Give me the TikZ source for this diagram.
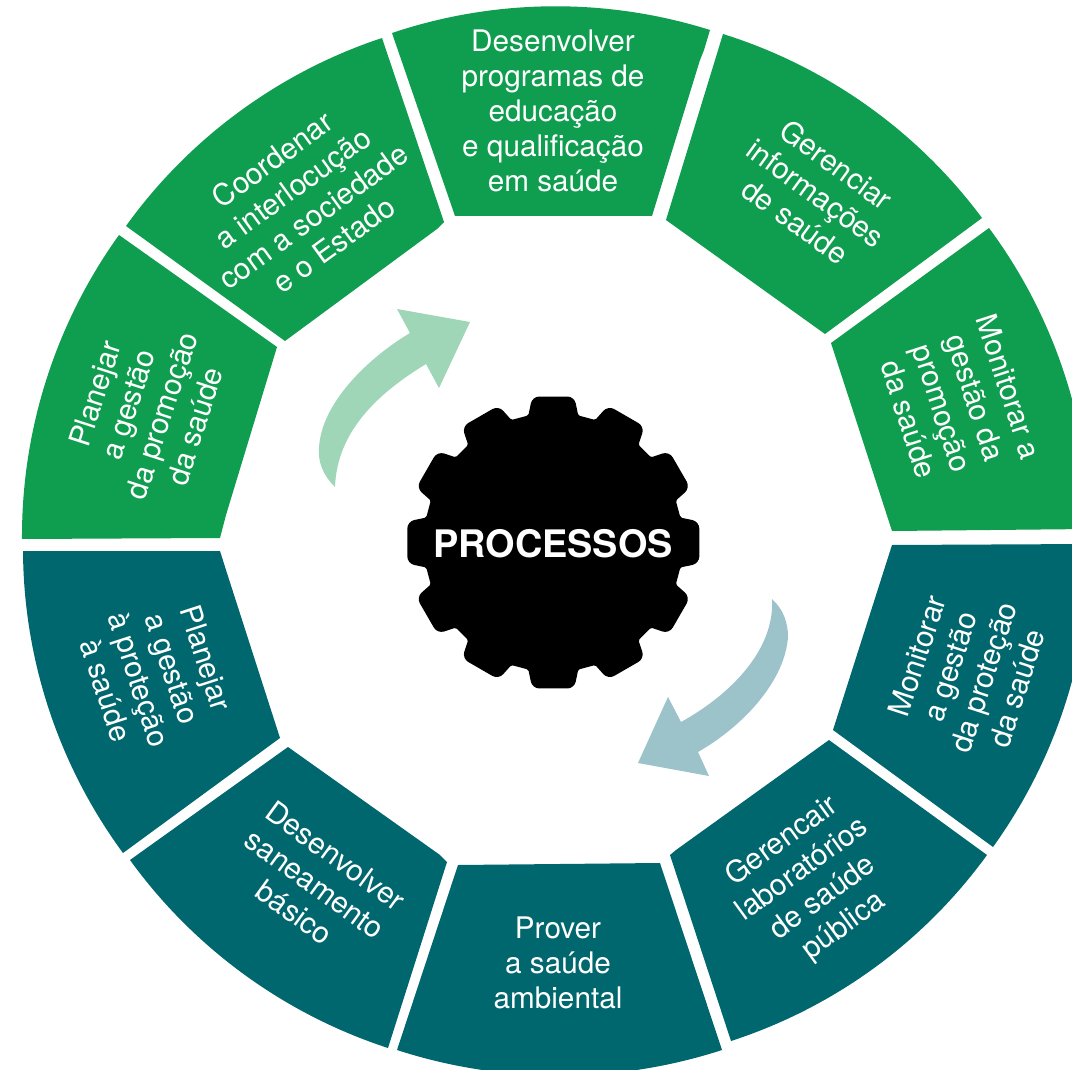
\documentclass[tikz,border=0pt]{standalone}
\usepackage{fontspec}
\setmainfont{TeX Gyre Heros}
\definecolor{gr}{HTML}{0F9D4F}
\definecolor{te}{HTML}{00676E}
\definecolor{lgr}{HTML}{9FD6B8}
\definecolor{lte}{HTML}{9CC3C9}
\tikzset{
  lab/.style={text=white,align=center,inner sep=0pt,font=\fontsize{29.7}{35}\selectfont},
  arcb/.style={bend left=18,looseness=0.873},
}
\begin{document}
\begin{tikzpicture}[x=1pt,y=-1pt]
\useasboundingbox (0,0) rectangle (1072,1070);
\clip (0,0) rectangle (1072,1070);
\fill[white] (0,0) rectangle (1072,1070);
% green segments
\fill[gr] (392,33) to[arcb] (710,30) -- (704,50) -- (700,60) -- (652,216) -- (455,216) -- cycle;
\fill[gr] (723,34) to[arcb] (982,218) -- (825,334) -- (666,220) -- cycle;
\fill[gr] (989,228) to[arcb] (1090,529) -- (892,531) -- (831,343) -- cycle;
\fill[gr] (22,539) to[arcb] (119,235) -- (277,347) -- (226,515) -- (220,538) -- cycle;
\fill[gr] (126,226) to[arcb] (382,38) -- (444,222) -- (437,229) -- (285,341) -- cycle;
% teal segments
\fill[te] (1090,544) to[arcb] (993,847) -- (833,730) -- (892,545) -- cycle;
\fill[te] (987,855) to[arcb] (731,1041) -- (670,855) -- (676,850) -- (829,740) -- cycle;
\fill[te] (722,1050) to[arcb] (397,1050) -- (458,865) -- (660,863) -- cycle;
\fill[te] (388,1048) to[arcb] (130,860) -- (288,747) -- (440,855) -- (447,862) -- cycle;
\fill[te] (123,853) to[arcb] (23,551) -- (220,551) -- (226,570) -- (280,738) -- cycle;
% arrows
\fill[lgr] (335,487) .. controls (322,474) and (318,461) .. (319,448) .. controls (321,405) and (365,360) .. (410,333) -- (397,309) -- (470,322) -- (439,388) -- (426,364) .. controls (380,392) and (337,430) .. (335,487) -- cycle;
\fill[lte] (772,599) .. controls (783,609) and (788,622) .. (788,637) .. controls (785,680) and (745,725) .. (698,752) -- (709,776) -- (638,763) -- (668,697) -- (681,722) .. controls (730,695) and (775,650) .. (772,599) -- cycle;
% gear
\begin{scope}[shift={(553.3,542.5)}]
\fill[black] (-11.1:129.5)
  \foreach \a in {0,30,...,330} {
    [rounded corners=1.5pt] -- (\a-11.1:129.5) [rounded corners=7pt] -- (\a-8.2:147.5) -- (\a+8.2:147.5) [rounded corners=1.5pt] -- (\a+11.1:129.5)
  } -- cycle;
\end{scope}
\node[text=white,inner sep=0pt,font=\fontsize{37.9}{38}\selectfont\bfseries] (proc) at (553,543.5) {PROCESSOS};
% labels
\node[lab] (l1) at (553,111) {Desenvolver\\programas de\\educação\\e qualificação\\em saúde};
\node[lab,rotate=-36] (l2) at (816,193) {Gerenciar\\informações\\de saúde};
\node[lab,rotate=-72] (l3) at (959,403) {Monitorar a\\gestão da\\promoção\\da saúde};
\node[lab,rotate=72] (l4) at (967,672) {Monitorar\\a gestão\\da proteção\\da saúde};
\node[lab,rotate=36] (l5) at (813,884) {Gerencair\\laboratórios\\de saúde\\pública};
\node[lab] (l6) at (558,963) {Prover\\a saúde\\ambiental};
\node[lab,rotate=-36] (l7) at (315,884) {Desenvolver\\saneamento\\básico};
\node[lab,rotate=-72] (l8) at (156,674) {Planejar\\a gestão\\à proteção\\à saúde};
\node[lab,rotate=72] (l9) at (145,410) {Planejar\\a gestão\\da promoção\\da saúde};
\node[lab,rotate=36] (l10) at (303,202) {Coordenar\\a interlocução\\com a sociedade\\e o Estado};
\end{tikzpicture}
\end{document}
